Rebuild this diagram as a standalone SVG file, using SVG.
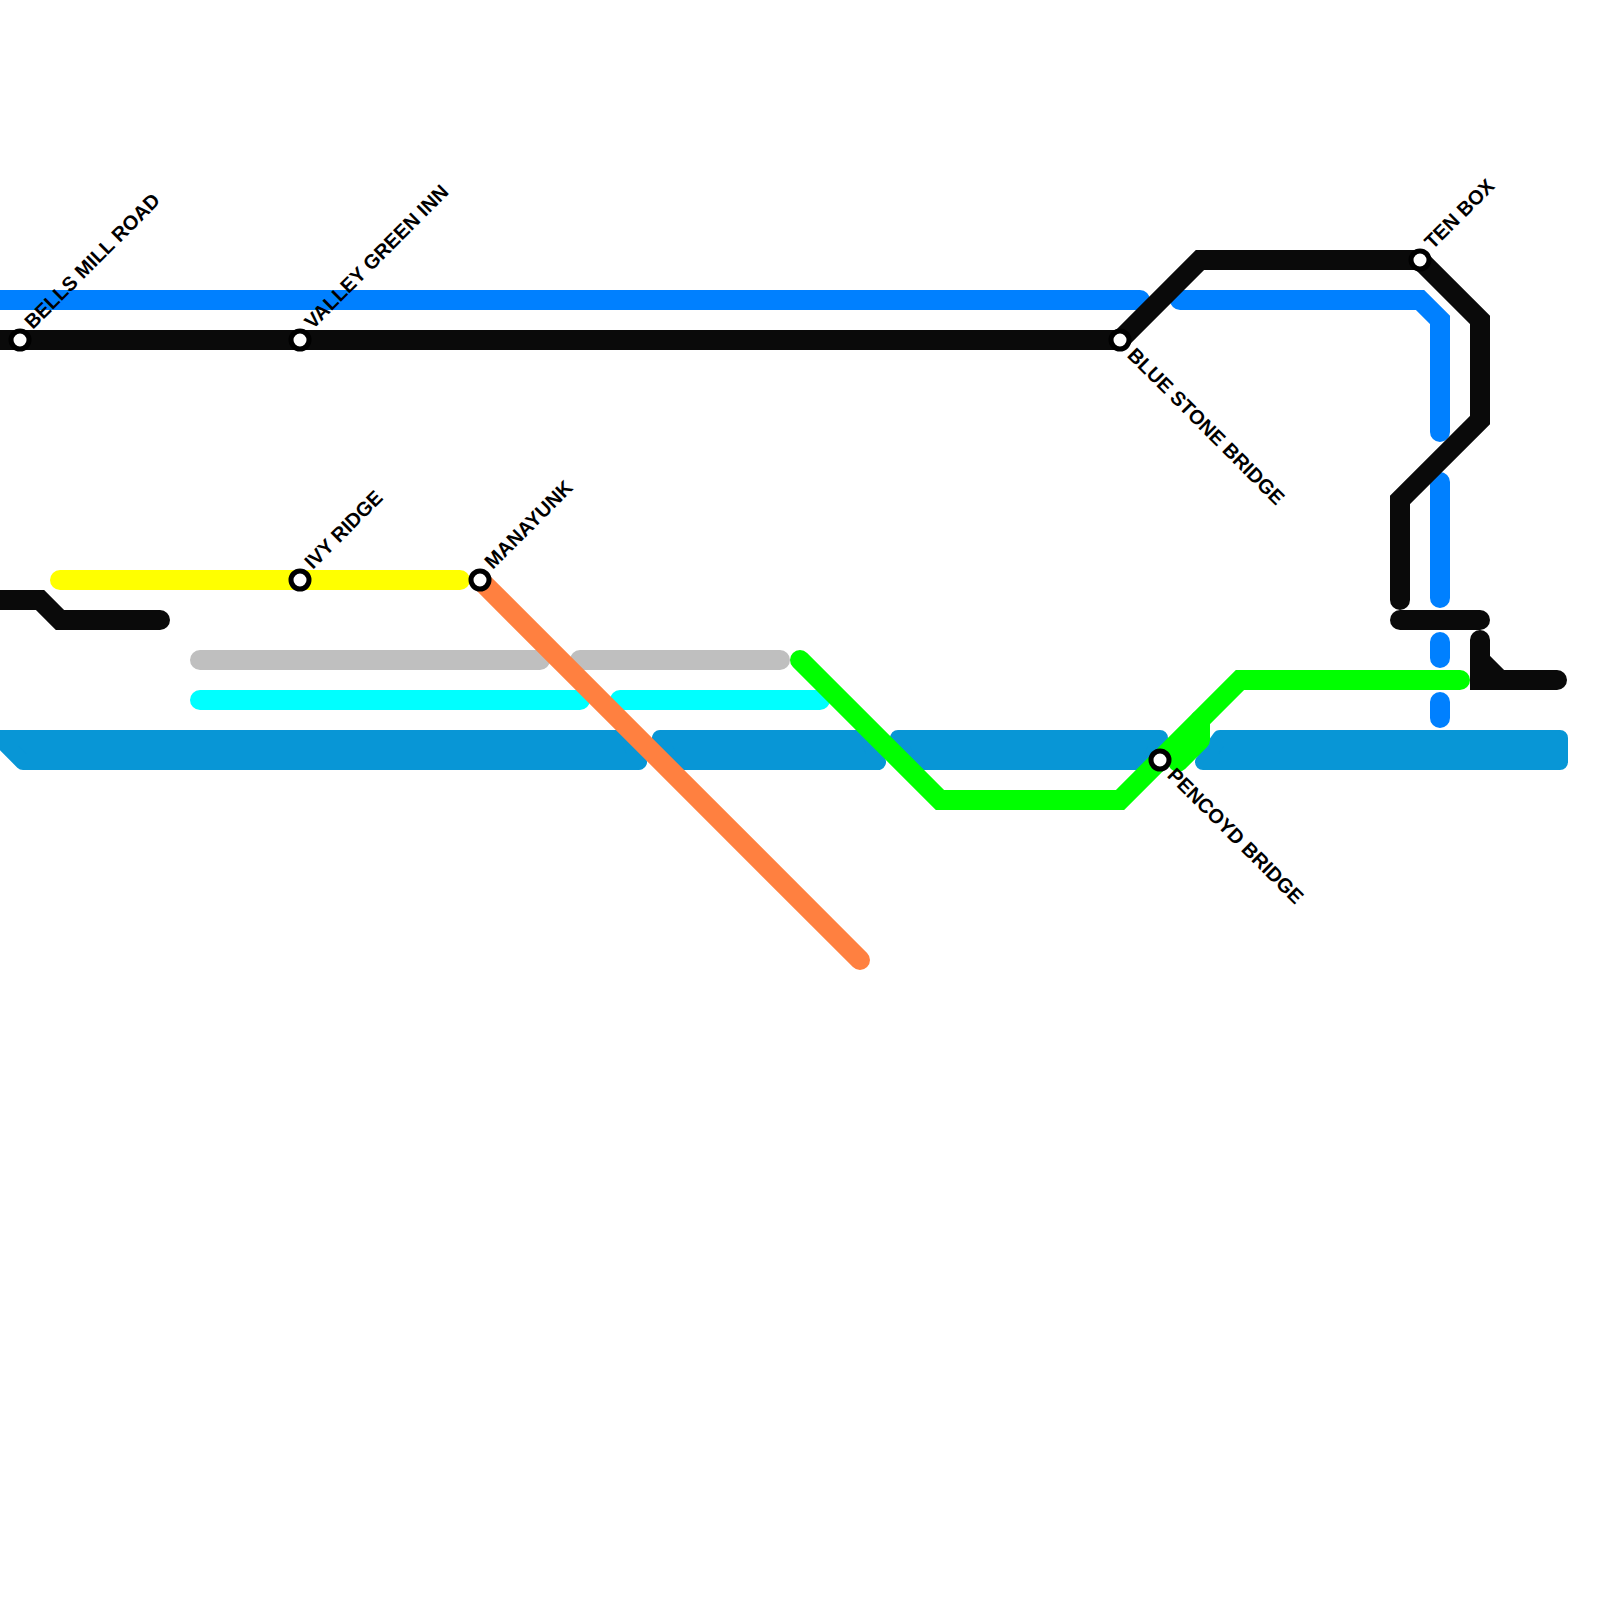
<svg xmlns="http://www.w3.org/2000/svg" width="1600" height="1600" viewBox="0 0 1600 1600">
<style>
.ln{fill:none;stroke-width:20;stroke-linecap:round;stroke-linejoin:miter}
.blue{stroke:#0080ff}
.blk{stroke:#0a0a0a}
.grn{stroke:#00ff00}
.yel{stroke:#ffff00}
.gry{stroke:#bfbfbf}
.cyn{stroke:#00ffff}
.org{stroke:#ff8040}
.riv{fill:#0896d6;stroke:#0896d6;stroke-width:16;stroke-linejoin:round}
.st{fill:#ffffff;stroke:#000000;stroke-width:5}
.lbl{font-family:"Liberation Sans",Arial,sans-serif;font-weight:bold;font-size:20px;fill:#000000}
</style>
<rect x="0" y="0" width="1600" height="1600" fill="#ffffff"/>
<g id="connectors">
  <g id="river">
    <polygon class="riv" points="-20,738 628,738 639,762 23,762 -1,738"/>
    <polygon class="riv" points="660,738 868,738 878,762 672,762"/>
    <polygon class="riv" points="898,738 1160,738 1150,762 908,762"/>
    <polygon class="riv" points="1220,738 1560,738 1560,762 1203,762"/>
  </g>
  <path class="ln gry" d="M200,660 H540 M580,660 H780"/>
  <path class="ln cyn" d="M200,700 H580 M620,700 H820"/>
  <path class="ln yel" d="M60,580 H460"/>
  <path class="ln blue" d="M-20,300 H1140"/>
  <path class="ln blue" d="M1180,300 H1420 L1440,320 V432"/>
  <path class="ln blue" d="M1440,482 V598 M1440,642 V658 M1440,702 V718"/>
  <path class="ln org" d="M480,580 L860,960"/>
  <path class="ln grn" d="M800,660 L940,800 H1120 L1240,680 H1460"/>
  <path class="ln grn" d="M1200,720 V740 L1178,762" style="stroke-linejoin:round"/>
  <path class="ln blk" d="M-20,340 H1120 L1200,260 H1420 L1480,320 V420 L1400,500 V600"/>
  <path class="ln blk" d="M1400,620 H1480"/>
  <path class="ln blk" d="M1480,640 V660 L1500,680 H1557 M1480,660 V680 H1500"/>
  <path class="ln blk" d="M-20,600 H40 L60,620 H160"/>
</g>
<g id="station-bells-mill-road">
  <circle class="st" cx="20" cy="340" r="9"/>
  <text class="lbl" transform="translate(20 340) rotate(-45)" x="16" y="2">BELLS MILL ROAD</text>
</g>
<g id="station-valley-green-inn">
  <circle class="st" cx="300" cy="340" r="9"/>
  <text class="lbl" transform="translate(300 340) rotate(-45)" x="16" y="2">VALLEY GREEN INN</text>
</g>
<g id="station-blue-stone-bridge">
  <circle class="st" cx="1120" cy="340" r="9"/>
  <text class="lbl" transform="translate(1120 340) rotate(45)" x="16" y="7">BLUE STONE BRIDGE</text>
</g>
<g id="station-ten-box">
  <circle class="st" cx="1420" cy="260" r="9"/>
  <text class="lbl" transform="translate(1420 260) rotate(-45)" x="16" y="2">TEN BOX</text>
</g>
<g id="station-ivy-ridge">
  <circle class="st" cx="300" cy="580" r="9"/>
  <text class="lbl" transform="translate(300 580) rotate(-45)" x="16" y="2">IVY RIDGE</text>
</g>
<g id="station-manayunk">
  <circle class="st" cx="480" cy="580" r="9"/>
  <text class="lbl" transform="translate(480 580) rotate(-45)" x="16" y="2">MANAYUNK</text>
</g>
<g id="station-pencoyd-bridge">
  <circle class="st" cx="1160" cy="760" r="9"/>
  <text class="lbl" transform="translate(1160 760) rotate(45)" x="16" y="7">PENCOYD BRIDGE</text>
</g>
</svg>
